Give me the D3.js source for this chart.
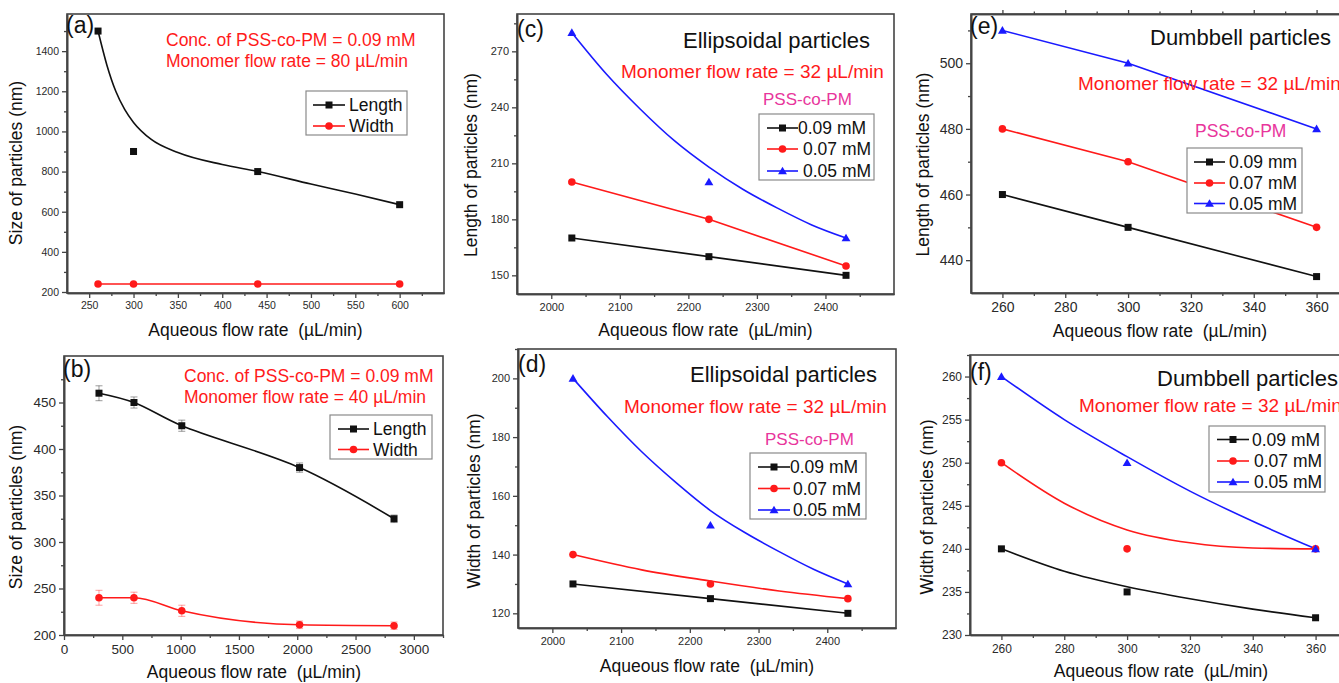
<!DOCTYPE html>
<html><head><meta charset="utf-8">
<script src="https://cdn.jsdelivr.net/npm/d3@7"></script>
<style>
html,body{margin:0;padding:0;background:#fff;overflow:hidden}
svg{display:block;font-family:"Liberation Sans",Arial,sans-serif}
text{white-space:pre}
</style></head><body>
<svg id="chart" width="1339" height="683"></svg>
<script>
// ---------- DATA ----------
// (a)
const A_X = [260, 300, 440, 600];
const A_LENGTH = [1500, 900, 800, 635];
const A_WIDTH = [240, 240, 240, 240];
const A_FIT_X = [260, 270, 280, 290, 300, 320, 350, 400, 440, 500, 550, 600];
const A_FIT_Y = [1500, 1330, 1200, 1110, 1045, 960, 895, 835, 800, 738, 688, 635];
// (b)
const B_X = [300, 600, 1010, 2020, 2830];
const B_LENGTH = [460, 450, 425, 380, 325];
const B_LENGTH_ERR = [8, 6, 6, 5, 4];
const B_WIDTH = [240, 240, 226, 211, 210];
const B_WIDTH_ERR = [8, 6, 6, 4, 4];
// (c)
const C_X = [2030, 2230, 2430];
const C_09 = [170, 160, 150];
const C_07 = [200, 180, 155];
const C_05 = [280, 200, 170];
const C_FIT05_X = [2030, 2080, 2130, 2180, 2230, 2280, 2330, 2380, 2430];
const C_FIT05_Y = [280, 258, 239, 222, 208, 196, 186, 177, 170];
// (d)
const D_X = [2030, 2230, 2430];
const D_09 = [130, 125, 120];
const D_07 = [140, 130, 125];
const D_05 = [200, 150, 130];
const D_FIT07_X = [2030, 2130, 2230, 2330, 2430];
const D_FIT07_Y = [140, 134.8, 131, 127.6, 125];
const D_FIT05_X = [2030, 2080, 2130, 2180, 2230, 2280, 2330, 2380, 2430];
const D_FIT05_Y = [200, 187, 175, 164.5, 155, 147.5, 141, 135, 130];
// (e)
const E_X = [260, 300, 360];
const E_09 = [460, 450, 435];
const E_07 = [480, 470, 450];
const E_05 = [510, 500, 480];
// (f)
const F_X = [260, 300, 360];
const F_09 = [240, 235, 232];
const F_07 = [250, 240, 240];
const F_05 = [260, 250, 240];
const F_FIT_X = [260, 280, 300, 320, 340, 360];
const F_FIT09 = [240, 237.4, 235.6, 234.2, 233.0, 232];
const F_FIT07 = [250, 245.3, 242.2, 240.7, 240.1, 240];
const F_FIT05 = [260, 255, 250.7, 246.7, 243.2, 240];

const LABELS_LW = ["Length", "Width"];
const LABELS_CONC = ["0.09 mM", "0.07 mM", "0.05 mM"];
const LABELS_CONC_E = ["0.09 mm", "0.07 mM", "0.05 mM"];
const X_TITLE = "Aqueous flow rate  (\u00b5L/min)";

// ---------- STYLE ----------
const BLACK = "#111", RED = "#ff1a1a", BLUE = "#1a1aff", MAGENTA = "#e8359c";
const FONT = '"Liberation Sans",Arial,sans-serif';
const svg = d3.select("#chart");
const fmt = d3.format("d");

function zip(xs, ys){ return xs.map((x,i)=>({x, y: ys[i]})); }

function marker(g, shape, cx, cy, color){
  if (shape === "square") {
    g.append("rect").attr("x", cx-3.5).attr("y", cy-3.5).attr("width",7).attr("height",7).attr("fill",color);
  } else if (shape === "circle") {
    g.append("circle").attr("cx",cx).attr("cy",cy).attr("r",3.8).attr("fill",color);
  } else {
    g.append("path").attr("d", d3.symbol(d3.symbolTriangle, 34)()).attr("transform",`translate(${cx},${cy+0.8})`).attr("fill",color);
  }
}

const CURVES = {linear: d3.curveLinear, smooth: d3.curveMonotoneX, catmull: d3.curveCatmullRom};

function panel(cfg){
  const [L,T,R,B] = cfg.box;
  const x = d3.scaleLinear().domain(cfg.xd).range([L,R]);
  const y = d3.scaleLinear().domain(cfg.yd).range([B,T]);
  const g = svg.append("g");

  // frame
  g.append("rect").attr("x",L).attr("y",T).attr("width",R-L).attr("height",B-T)
    .attr("fill","none").attr("stroke","#444").attr("stroke-width",1.6);

  // axes
  const xt = d3.range(cfg.xt[0], cfg.xt[1]+1e-9, cfg.xt[2]);
  const xm = d3.range(cfg.xm[0], cfg.xm[1]+1e-9, cfg.xm[2]);
  const yt = d3.range(cfg.yt[0], cfg.yt[1]+1e-9, cfg.yt[2]);
  const ym = d3.range(cfg.ym[0], cfg.ym[1]+1e-9, cfg.ym[2]);
  const fs = cfg.tfs;

  g.append("g").attr("transform",`translate(0,${B})`)
    .call(d3.axisBottom(x).tickValues(xt).tickFormat(fmt).tickSize(5).tickSizeOuter(0).tickPadding(4));
  g.append("g").attr("transform",`translate(0,${B})`)
    .call(d3.axisBottom(x).tickValues(xm).tickSize(3).tickSizeOuter(0).tickFormat(""));
  g.append("g").attr("transform",`translate(${L},0)`)
    .call(d3.axisLeft(y).tickValues(yt).tickFormat(fmt).tickSize(5).tickSizeOuter(0).tickPadding(3));
  g.append("g").attr("transform",`translate(${L},0)`)
    .call(d3.axisLeft(y).tickValues(ym).tickSize(3).tickSizeOuter(0).tickFormat(""));
  if (cfg.topTicks) {
    g.append("g").attr("transform",`translate(0,${T})`)
      .call(d3.axisTop(x).tickValues(xt).tickSize(4).tickSizeOuter(0).tickFormat(""));
    g.append("g").attr("transform",`translate(0,${T})`)
      .call(d3.axisTop(x).tickValues(xm).tickSize(2.5).tickSizeOuter(0).tickFormat(""));
  }
  g.selectAll(".domain").attr("stroke","#444").attr("stroke-width",1.6);
  g.selectAll(".tick line").attr("stroke","#444").attr("stroke-width",1.3);
  g.selectAll(".tick text").attr("fill","#2a2a2a").style("font-size",fs+"px").style("font-family",FONT);

  // titles
  g.append("text").attr("x",cfg.xtitle[0]).attr("y",cfg.xtitle[1]).attr("text-anchor","middle")
    .style("font-size","17.5px").attr("fill","#111").text(X_TITLE);
  g.append("text").attr("transform",`translate(${cfg.ytitle[0]},${cfg.ytitle[1]}) rotate(-90)`)
    .attr("text-anchor","middle").attr("dominant-baseline","central")
    .style("font-size","17.5px").attr("fill","#111").text(cfg.ytitleText);

  // series
  const plot = g.append("g");
  (cfg.fits||[]).forEach(f=>{
    plot.append("path").datum(f.pts).attr("fill","none").attr("stroke",f.color).attr("stroke-width",1.6)
      .attr("d", d3.line().x(d=>x(d.x)).y(d=>y(d.y)).curve(d3.curveMonotoneX));
  });
  cfg.series.forEach(s=>{
    if (s.line) {
      plot.append("path").datum(s.pts).attr("fill","none").attr("stroke",s.color).attr("stroke-width",1.6)
        .attr("d", d3.line().x(d=>x(d.x)).y(d=>y(d.y)).curve(CURVES[s.line]));
    }
    if (s.err) {
      s.pts.forEach((p,i)=>{
        const e = s.err[i], cx = x(p.x);
        const eg = plot.append("g").attr("stroke",s.color).attr("stroke-opacity",0.35).attr("stroke-width",1.2);
        eg.append("line").attr("x1",cx).attr("x2",cx).attr("y1",y(p.y-e)).attr("y2",y(p.y+e));
        eg.append("line").attr("x1",cx-3.5).attr("x2",cx+3.5).attr("y1",y(p.y-e)).attr("y2",y(p.y-e));
        eg.append("line").attr("x1",cx-3.5).attr("x2",cx+3.5).attr("y1",y(p.y+e)).attr("y2",y(p.y+e));
      });
    }
    s.pts.forEach(p=>marker(plot, s.shape, x(p.x), y(p.y), s.color));
  });

  // panel label
  g.append("text").attr("x",cfg.label[0]).attr("y",cfg.label[1]).style("font-size","23px").attr("fill","#111").text(cfg.label[2]);

  // annotations
  (cfg.notes||[]).forEach(n=>{
    g.append("text").attr("x",n[0]).attr("y",n[1]).style("font-size",n[2]+"px").attr("fill",n[3]).text(n[4]);
  });

  // legend
  const lg = cfg.legend;
  const lgG = g.append("g");
  lgG.append("rect").attr("x",lg.box[0]).attr("y",lg.box[1]).attr("width",lg.box[2]-lg.box[0]).attr("height",lg.box[3]-lg.box[1])
    .attr("fill","#fff").attr("stroke","#8a8a8a").attr("stroke-width",1.2);
  lg.items.forEach((it,i)=>{
    const yy = lg.rows[i];
    lgG.append("line").attr("x1",lg.line[0]).attr("x2",lg.line[1]).attr("y1",yy).attr("y2",yy)
      .attr("stroke",it.color).attr("stroke-width",1.6);
    marker(lgG, it.shape, (lg.line[0]+lg.line[1])/2, yy, it.color);
    lgG.append("text").attr("x",lg.text[i]).attr("y",yy).attr("dominant-baseline","central")
      .style("font-size","17.5px").attr("fill","#111").text(it.label);
  });
}

// ---------- PANELS ----------
panel({
  box:[67,14,444,293], xd:[225,650], yd:[195,1585],
  xt:[250,600,50], xm:[275,625,50], yt:[200,1400,200], ym:[300,1500,200], tfs:10.5,
  xtitle:[255.5,336], ytitle:[16,163], ytitleText:"Size of particles (nm)",
  label:[66,33,"(a)"],
  notes:[[166,46,17.5,RED,"Conc. of PSS-co-PM = 0.09 mM"],[166,67,17.5,RED,"Monomer flow rate = 80 \u00b5L/min"]],
  fits:[{color:BLACK, pts:zip(A_FIT_X,A_FIT_Y)}],
  series:[
    {pts:zip(A_X,A_LENGTH), color:BLACK, shape:"square", line:null},
    {pts:zip(A_X,A_WIDTH), color:RED, shape:"circle", line:"linear"}
  ],
  legend:{box:[306,91,407,135], rows:[105,126], line:[313,345], text:[349,349],
    items:[{label:LABELS_LW[0],color:BLACK,shape:"square"},{label:LABELS_LW[1],color:RED,shape:"circle"}]}
});

panel({
  box:[64,356,443,635], xd:[0,3250], yd:[200,500],
  xt:[0,3000,500], xm:[250,3250,500], yt:[200,450,50], ym:[225,475,50], tfs:13.5,
  xtitle:[254,678], ytitle:[16,507], ytitleText:"Size of particles (nm)",
  label:[63,377,"(b)"],
  notes:[[184,382,17.5,RED,"Conc. of PSS-co-PM = 0.09 mM"],[184,403,17.5,RED,"Monomer flow rate = 40 \u00b5L/min"]],
  series:[
    {pts:zip(B_X,B_LENGTH), err:B_LENGTH_ERR, color:BLACK, shape:"square", line:"catmull"},
    {pts:zip(B_X,B_WIDTH), err:B_WIDTH_ERR, color:RED, shape:"circle", line:"smooth"}
  ],
  legend:{box:[330,415,432,459], rows:[429,449.5], line:[338,369], text:[373,373],
    items:[{label:LABELS_LW[0],color:BLACK,shape:"square"},{label:LABELS_LW[1],color:RED,shape:"circle"}]}
});

panel({
  box:[517,14,894,294], xd:[1950,2500], yd:[140,290],
  xt:[2000,2400,100], xm:[2050,2450,100], yt:[150,270,30], ym:[165,285,30], tfs:11,
  xtitle:[705.5,336], ytitle:[471,165], ytitleText:"Length of particles (nm)",
  label:[517,37,"(c)"],
  notes:[[683,48,22,"#111","Ellipsoidal particles"],[621,78,19,RED,"Monomer flow rate = 32 \u00b5L/min"],[763,105,17,MAGENTA,"PSS-co-PM"]],
  fits:[{color:BLUE, pts:zip(C_FIT05_X,C_FIT05_Y)}],
  series:[
    {pts:zip(C_X,C_09), color:BLACK, shape:"square", line:"linear"},
    {pts:zip(C_X,C_07), color:RED, shape:"circle", line:"linear"},
    {pts:zip(C_X,C_05), color:BLUE, shape:"triangle", line:null}
  ],
  legend:{box:[759,114,874,180], rows:[128,149,171], line:[767,798], text:[798,803,803],
    items:[{label:LABELS_CONC[0],color:BLACK,shape:"square"},{label:LABELS_CONC[1],color:RED,shape:"circle"},{label:LABELS_CONC[2],color:BLUE,shape:"triangle"}]}
});

panel({
  box:[518,349,896,628], xd:[1950,2500], yd:[115,210],
  xt:[2000,2400,100], xm:[2050,2450,100], yt:[120,200,20], ym:[130,210,20], tfs:11,
  xtitle:[707,672], ytitle:[474,501], ytitleText:"Width of particles (nm)",
  label:[518,372,"(d)"],
  notes:[[690,382,22,"#111","Ellipsoidal particles"],[624,413,19,RED,"Monomer flow rate = 32 \u00b5L/min"],[765,445,17,MAGENTA,"PSS-co-PM"]],
  fits:[{color:RED, pts:zip(D_FIT07_X,D_FIT07_Y)},{color:BLUE, pts:zip(D_FIT05_X,D_FIT05_Y)}],
  series:[
    {pts:zip(D_X,D_09), color:BLACK, shape:"square", line:"linear"},
    {pts:zip(D_X,D_07), color:RED, shape:"circle", line:null},
    {pts:zip(D_X,D_05), color:BLUE, shape:"triangle", line:null}
  ],
  legend:{box:[750,453,866,519], rows:[467,488.5,510], line:[758,790], text:[790,793,793],
    items:[{label:LABELS_CONC[0],color:BLACK,shape:"square"},{label:LABELS_CONC[1],color:RED,shape:"circle"},{label:LABELS_CONC[2],color:BLUE,shape:"triangle"}]}
});

panel({
  box:[971,14,1348,293], xd:[250,370], yd:[430,515], topTicks:true,
  xt:[260,360,20], xm:[270,370,20], yt:[440,500,20], ym:[450,510,20], tfs:14,
  xtitle:[1160,337], ytitle:[923,164.5], ytitleText:"Length of particles (nm)",
  label:[970,34,"(e)"],
  notes:[[1150,45,22,"#111","Dumbbell particles"],[1078,90,19,RED,"Monomer flow rate = 32 \u00b5L/min"],[1195,137,17.5,MAGENTA,"PSS-co-PM"]],
  series:[
    {pts:zip(E_X,E_09), color:BLACK, shape:"square", line:"linear"},
    {pts:zip(E_X,E_07), color:RED, shape:"circle", line:"linear"},
    {pts:zip(E_X,E_05), color:BLUE, shape:"triangle", line:"linear"}
  ],
  legend:{box:[1187,148,1302,213], rows:[162,183,203.5], line:[1194,1225], text:[1229,1229,1229],
    items:[{label:LABELS_CONC_E[0],color:BLACK,shape:"square"},{label:LABELS_CONC_E[1],color:RED,shape:"circle"},{label:LABELS_CONC_E[2],color:BLUE,shape:"triangle"}]}
});

panel({
  box:[970,355,1347,635], xd:[250,370], yd:[230,262.5],
  xt:[260,360,20], xm:[270,370,20], yt:[230,260,5], ym:[232.5,262.5,5], tfs:12,
  xtitle:[1161,677], ytitle:[927,507], ytitleText:"Width of particles (nm)",
  label:[970,380,"(f)"],
  notes:[[1157,386,22,"#111","Dumbbell particles"],[1079,412,19,RED,"Monomer flow rate = 32 \u00b5L/min"]],
  fits:[{color:BLACK, pts:zip(F_FIT_X,F_FIT09)},{color:RED, pts:zip(F_FIT_X,F_FIT07)},{color:BLUE, pts:zip(F_FIT_X,F_FIT05)}],
  series:[
    {pts:zip(F_X,F_09), color:BLACK, shape:"square", line:null},
    {pts:zip(F_X,F_07), color:RED, shape:"circle", line:null},
    {pts:zip(F_X,F_05), color:BLUE, shape:"triangle", line:null}
  ],
  legend:{box:[1209,426,1325,492], rows:[439.5,461,482], line:[1217,1249], text:[1252,1254,1254],
    items:[{label:LABELS_CONC[0],color:BLACK,shape:"square"},{label:LABELS_CONC[1],color:RED,shape:"circle"},{label:LABELS_CONC[2],color:BLUE,shape:"triangle"}]}
});
</script></body></html>
